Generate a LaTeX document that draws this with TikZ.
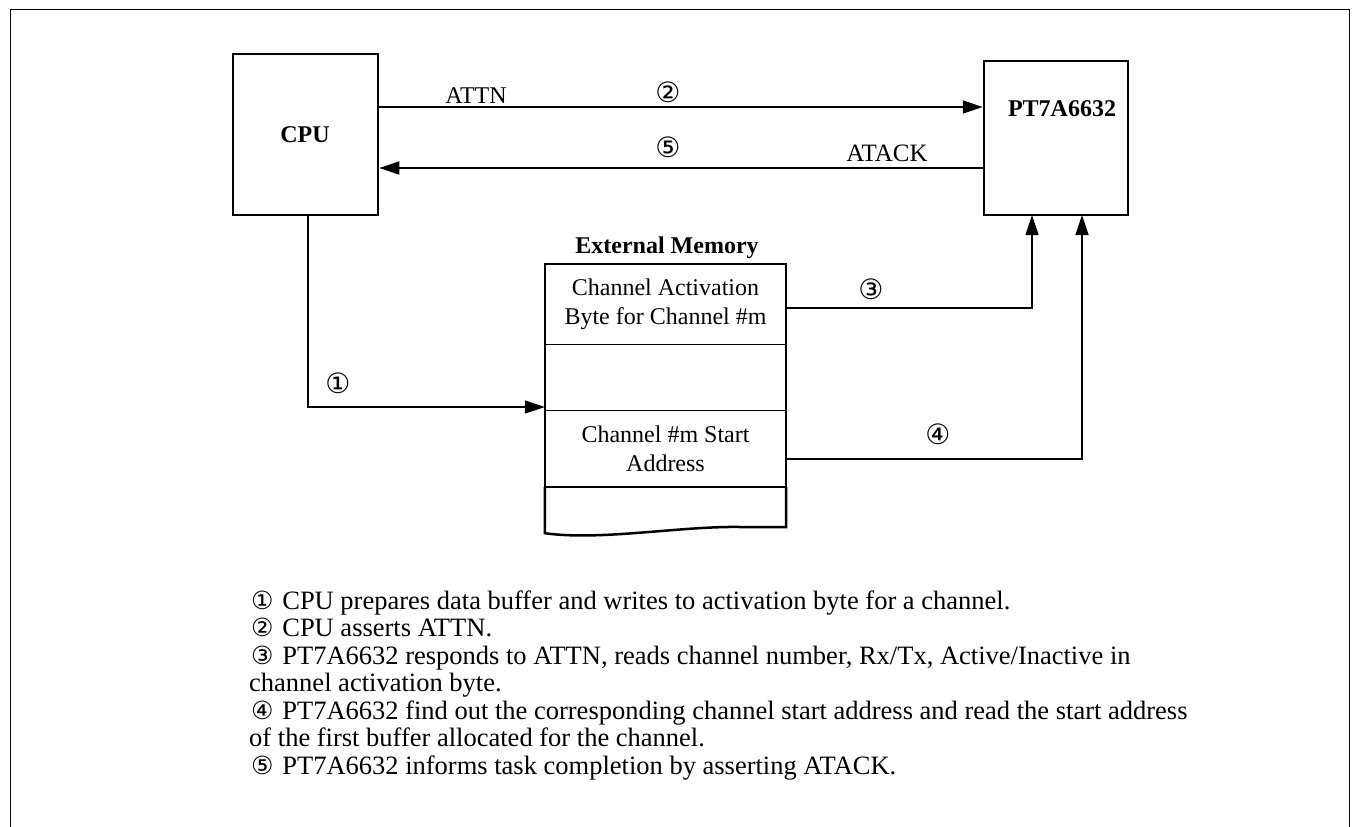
\documentclass[tikz,border=0pt]{standalone}
\usepackage{fontspec}
\setmainfont{Liberation Serif}
\newfontfamily\circfont{DejaVu Sans}
\usetikzlibrary{arrows.meta}
\newcommand\cnum[1]{\makebox[26.5pt]{\circfont\fontsize{25}{27}\selectfont #1}\ }
\begin{document}
\begin{tikzpicture}[x=1pt,y=-1pt,
  thick box/.style={draw, line width=2.5pt, inner sep=0pt},
  cell/.style={inner sep=0pt, minimum width=241, align=center, font=\fontsize{24}{29}\selectfont},
  conn/.style={line width=1.3pt},
  arr/.style={conn, -{Triangle[length=20pt,width=13pt]}},
  lbl/.style={font=\fontsize{24}{29}\selectfont, inner sep=0pt},
  num/.style={font=\circfont\fontsize{28}{30}\selectfont, inner sep=0pt},
  bodyline/.style={font=\fontsize{26.5}{27.5}\selectfont, anchor=base west, inner sep=0pt}
]
\useasboundingbox (0,0) rectangle (1355,827);
% outer frame (open at the bottom)
\draw[line width=1pt] (10,827) -- (10,9) -- (1349,9) -- (1349,827);

% CPU and PT7A6632
\node[thick box, minimum width=145, minimum height=161] (cpu) at (305.5,134.5) {};
\node[lbl, font=\bfseries\fontsize{24}{29}\selectfont] (cpulbl) at (305,135) {CPU};
\node[thick box, minimum width=144, minimum height=154] (pt) at (1056,138) {};
\node[lbl, font=\bfseries\fontsize{24}{29}\selectfont] (ptlbl) at (1062,109) {PT7A6632};

% External memory
\node[lbl, font=\bfseries\fontsize{24}{29}\selectfont] (memtitle) at (667,248) {External Memory};
\node[cell, minimum height=80] (c1) at (665.5,304) {Channel Activation\\Byte for Channel \#m};
\node[cell, minimum height=66] (c2) at (665.5,377) {};
\node[cell, minimum height=77] (c3) at (665.5,448.5) {Channel \#m Start\\Address};
\draw[line width=1.2pt] (c1.south west) -- (c1.south east);
\draw[line width=1.2pt] (c2.south west) -- (c2.south east);
\draw[line width=2.5pt] (c3.south west) -- (c3.south east);
\draw[line width=2.5pt, line join=miter] (c3.south west) -- ++(0,46)
  .. controls (600,541) and (680,526) .. (740,527) -- (786,527) -- (c3.south east);
\draw[line width=2.5pt] (c3.south west) -- (c1.north west) -- (c1.north east) -- (c3.south east);

% connector coordinates
\coordinate (yattn) at (0,107);
\coordinate (yatack) at (0,168);
\coordinate (yone) at (0,407);
\coordinate (pin3) at (1032,215);
\coordinate (pin4) at (1082,215);

% connectors
\draw[arr] (cpu.east |- yattn) -- (pt.west |- yattn);
\draw[arr] (pt.west |- yatack) -- (cpu.east |- yatack);
\draw[arr] ([xshift=2.5pt]cpu.south) |- (c2.west |- yone);
\draw[arr] ([yshift=-4pt]c1.east) -| (pin3);
\draw[arr] ([yshift=-10.5pt]c3.east) -| (pin4);

% connector labels
\node[lbl] (attn) at (476,96) {ATTN};
\node[num] (n2) at (668,92) {②};
\node[num] (n5) at (668,147) {⑤};
\node[lbl, font=\fontsize{25}{29}\selectfont] (atack) at (887,153) {ATACK};
\node[num] (n1) at (338,383) {①};
\node[num] (n3) at (871,289) {③};
\node[num] (n4) at (938,434) {④};

% explanatory text
\node[bodyline] (t1) at (249,609) {\cnum{①}CPU prepares data buffer and writes to activation byte for a channel.};
\node[bodyline] (t2) at (249,636.5) {\cnum{②}CPU asserts ATTN.};
\node[bodyline] (t3) at (249,664) {\cnum{③}PT7A6632 responds to ATTN, reads channel number, Rx/Tx, Active/Inactive in};
\node[bodyline] (t4) at (249,691.5) {channel activation byte.};
\node[bodyline] (t5) at (249,719) {\cnum{④}PT7A6632 find out the corresponding channel start address and read the start address};
\node[bodyline] (t6) at (249,746.5) {of the first buffer allocated for the channel.};
\node[bodyline] (t7) at (249,774) {\cnum{⑤}PT7A6632 informs task completion by asserting ATACK.};
\end{tikzpicture}
\end{document}
